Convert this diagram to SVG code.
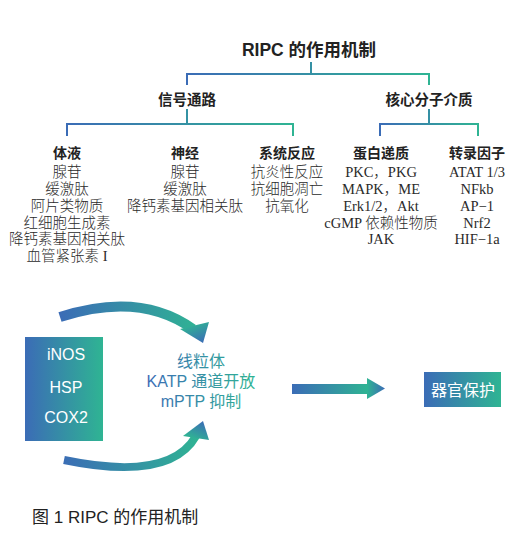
<svg xmlns="http://www.w3.org/2000/svg" width="521" height="535" viewBox="0 0 521 535">
<defs>
<linearGradient id="gTop" gradientUnits="userSpaceOnUse" x1="187" y1="0" x2="429" y2="0"><stop offset="0" stop-color="#3b6cb6"/><stop offset="1" stop-color="#2fb493"/></linearGradient>
<linearGradient id="gLeft" gradientUnits="userSpaceOnUse" x1="67" y1="0" x2="293" y2="0"><stop offset="0" stop-color="#3b6cb6"/><stop offset="1" stop-color="#2fb493"/></linearGradient>
<linearGradient id="gRight" gradientUnits="userSpaceOnUse" x1="380" y1="0" x2="478" y2="0"><stop offset="0" stop-color="#3b6cb6"/><stop offset="1" stop-color="#2fb493"/></linearGradient>
<linearGradient id="gH" x1="0" y1="0" x2="1" y2="0"><stop offset="0" stop-color="#3b6cb6"/><stop offset="1" stop-color="#2fb493"/></linearGradient>
<linearGradient id="gHr" x1="0" y1="0" x2="1" y2="0"><stop offset="0" stop-color="#2fb493"/><stop offset="1" stop-color="#3b6cb6"/></linearGradient>
<linearGradient id="gArcT" gradientUnits="userSpaceOnUse" x1="60" y1="0" x2="200" y2="0"><stop offset="0" stop-color="#3b6cb6"/><stop offset="1" stop-color="#2fb493"/></linearGradient>
<linearGradient id="gHeadT" gradientUnits="userSpaceOnUse" x1="195" y1="322" x2="203" y2="343"><stop offset="0" stop-color="#2fb493"/><stop offset="1" stop-color="#3b6cb6"/></linearGradient>
<linearGradient id="gHeadB" gradientUnits="userSpaceOnUse" x1="195" y1="440" x2="203" y2="421"><stop offset="0" stop-color="#2fb493"/><stop offset="1" stop-color="#3b6cb6"/></linearGradient>
<linearGradient id="gTxt" gradientUnits="userSpaceOnUse" x1="147" y1="0" x2="256" y2="0"><stop offset="0" stop-color="#3b6cb6"/><stop offset="1" stop-color="#2fb493"/></linearGradient>
</defs>
<style>
.t{font-family:"Liberation Sans","Noto Sans CJK SC",sans-serif;font-weight:bold;fill:#222;text-anchor:middle}
.h{font-family:"Liberation Sans","Noto Sans CJK SC",sans-serif;font-weight:bold;fill:#222;font-size:14px;text-anchor:middle}
.i{font-family:"Liberation Serif","Noto Sans CJK SC",serif;font-weight:300;fill:#2a2a2a;font-size:14.5px;text-anchor:middle}
.w{font-family:"Liberation Sans","Noto Sans CJK SC",sans-serif;fill:#fff;font-size:16px;text-anchor:middle}
.m{font-family:"Liberation Sans","Noto Sans CJK SC",sans-serif;font-size:16px;text-anchor:middle;fill:url(#gTxt)}
.ln{fill:none;stroke-width:2}
</style>
<g id="title"><text class="t" x="309" y="56" font-size="17.5">RIPC 的作用机制</text></g>
<g id="connectors">
<path class="ln" stroke="url(#gTop)" d="M311 62V74M187 85V74H429V85"/>
<path class="ln" stroke="url(#gLeft)" d="M187 109V124M67 136V124H293V136"/>
<path class="ln" stroke="url(#gRight)" d="M429 109V124M380 136V124H478V136"/>
<path fill="none" stroke="url(#gArcT)" stroke-width="10" d="M60 317Q140 291 193 329"/>
<polygon fill="url(#gHeadT)" points="180,329 209,322 203,343"/>
<path fill="none" stroke="url(#gArcT)" stroke-width="8" d="M64 460Q170 482 196 436"/>
<polygon fill="url(#gHeadB)" points="183,436 209,440 203,421"/>
<rect x="292" y="384" width="76" height="10" fill="url(#gH)"/>
<polygon fill="url(#gHr)" points="367,378 385,388.5 367,399"/>
</g>
<g id="signal"><text class="t" x="187" y="105" font-size="14.5">信号通路</text></g>
<g id="core"><text class="t" x="429" y="105" font-size="14.5">核心分子介质</text></g>
<g id="humoral">
<text class="h" x="67" y="158">体液</text>
<text class="i" x="67" y="177">腺苷</text>
<text class="i" x="67" y="194">缓激肽</text>
<text class="i" x="67" y="211">阿片类物质</text>
<text class="i" x="67" y="227.5">红细胞生成素</text>
<text class="i" x="67" y="244">降钙素基因相关肽</text>
<text class="i" x="67" y="261">血管紧张素 I</text>
</g>
<g id="neural">
<text class="h" x="185" y="158">神经</text>
<text class="i" x="185" y="177">腺苷</text>
<text class="i" x="185" y="194">缓激肽</text>
<text class="i" x="185" y="211">降钙素基因相关肽</text>
</g>
<g id="systemic">
<text class="h" x="287" y="158">系统反应</text>
<text class="i" x="287" y="177">抗炎性反应</text>
<text class="i" x="287" y="194">抗细胞凋亡</text>
<text class="i" x="287" y="211">抗氧化</text>
</g>
<g id="protein">
<text class="h" x="381" y="158">蛋白递质</text>
<text class="i" x="381" y="177">PKC，PKG</text>
<text class="i" x="381" y="194">MAPK，ME</text>
<text class="i" x="381" y="211">Erk1/2，Akt</text>
<text class="i" x="381" y="227.5">cGMP 依赖性物质</text>
<text class="i" x="381" y="244">JAK</text>
</g>
<g id="transcription">
<text class="h" x="477" y="158">转录因子</text>
<text class="i" x="477" y="177">ATAT 1/3</text>
<text class="i" x="477" y="194">NFkb</text>
<text class="i" x="477" y="211">AP−1</text>
<text class="i" x="477" y="227.5">Nrf2</text>
<text class="i" x="477" y="244">HIF−1a</text>
</g>
<g id="factors">
<rect x="25" y="337" width="78" height="104" fill="url(#gH)"/>
<text class="w" x="66" y="360">iNOS</text>
<text class="w" x="66" y="393">HSP</text>
<text class="w" x="66" y="423">COX2</text>
</g>
<g id="mito">
<text class="m" x="201" y="367">线粒体</text>
<text class="m" x="201" y="387">KATP 通道开放</text>
<text class="m" x="201" y="407">mPTP 抑制</text>
</g>
<g id="organ">
<rect x="424" y="372" width="77" height="35" fill="url(#gH)"/>
<text class="w" x="463" y="396">器官保护</text>
</g>
<g id="caption"><text x="32" y="523" font-family="Liberation Sans,Noto Sans CJK SC,sans-serif" font-size="17" fill="#222">图 1 RIPC 的作用机制</text></g>
</svg>
